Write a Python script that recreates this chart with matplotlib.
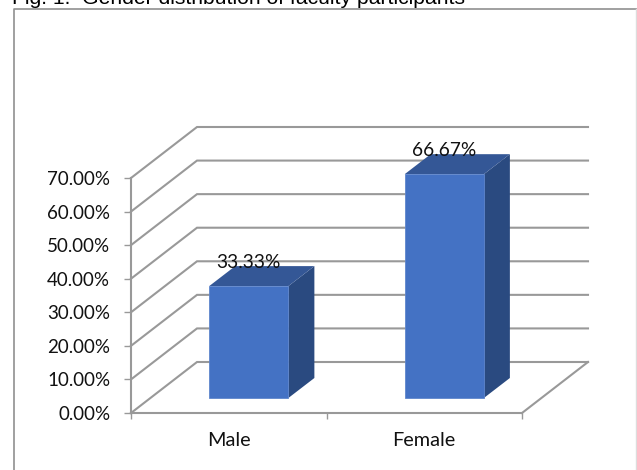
import matplotlib
matplotlib.use("Agg")
import matplotlib.pyplot as plt
from matplotlib.patches import Polygon, Rectangle

categories = ["Male", "Female"]
values = [33.33, 66.67]
y_ticks = [0, 10, 20, 30, 40, 50, 60, 70]

W, H = 637, 470
dpi = 100
plt.rcParams["font.family"] = ["Lato", "DejaVu Sans"]

fig = plt.figure(figsize=(W / dpi, H / dpi), dpi=dpi)
# axes sits on the front face of the 3d box, the depth is an offset in data units
ax = fig.add_axes([131 / W, 1 - 413 / H, 391 / W, 235 / H])
ax.set_xlim(0, len(categories))
ax.set_ylim(0, 70)
ax.patch.set_alpha(0)

grid = "#999999"
depth_x = 66 / 391 * 2
depth_y = 51 / 235 * 70
bar_w = 0.405
bar_dx = 26 / 391 * 2
bar_dy = 20 / 235 * 70
bar_z = 15 / 235 * 70

for t in y_ticks:
    ax.plot([0, depth_x, 2 + depth_x], [t, t + depth_y, t + depth_y],
            color=grid, lw=1.5, clip_on=False, zorder=1, solid_joinstyle="miter")
ax.plot([2, 2 + depth_x], [0, depth_y], color=grid, lw=1.5, clip_on=False, zorder=1)

for i, v in enumerate(values):
    x0 = i + 0.4
    x1 = x0 + bar_w
    b = bar_z
    t = v + bar_z
    ax.add_patch(Polygon([(x1, b), (x1 + bar_dx, b + bar_dy), (x1 + bar_dx, t + bar_dy), (x1, t)],
                         fc="#2a4a80", ec="none", clip_on=False, zorder=2))
    ax.add_patch(Polygon([(x0, t), (x1, t), (x1 + bar_dx, t + bar_dy), (x0 + bar_dx, t + bar_dy)],
                         fc="#345796", ec="none", clip_on=False, zorder=2))
    ax.add_patch(Rectangle((x0, b), bar_w, v, fc="#4472c4", ec="#5f86cc", lw=0.6,
                           clip_on=False, zorder=3))
    ax.annotate(f"{v:.2f}%", (x0 + bar_w / 2, t), xytext=(0, 11), textcoords="offset points",
                ha="center", va="bottom", fontsize=13.8, color="#111111", zorder=4,
                annotation_clip=False)

for side in ["top", "right"]:
    ax.spines[side].set_visible(False)
for side in ["left", "bottom"]:
    ax.spines[side].set_color(grid)
    ax.spines[side].set_linewidth(1.5)

ax.set_yticks(y_ticks, [f"{t:.2f}%" for t in y_ticks], fontsize=13.5, color="#111111")
ax.set_xticks([0, 1, 2], ["", "", ""])
ax.set_xticks([0.5, 1.5], categories, minor=True, fontsize=14.3, color="#111111")
ax.tick_params(axis="y", color=grid, width=1, length=5, pad=10)
ax.tick_params(axis="x", which="major", color=grid, width=1, length=4)
ax.tick_params(axis="x", which="minor", length=0, pad=14)

# frame round the chart, it runs off the bottom of the crop
fig.add_artist(plt.Line2D([13.5 / W, 13.5 / W, 637 / W],
                          [0, 1 - 8.5 / H, 1 - 8.5 / H], color="#909090", lw=1.2))
fig.add_artist(plt.Line2D([636 / W, 636 / W], [0, 1 - 8.5 / H], color="#dddddd", lw=1))

# caption is cut by the top of the crop in the reference too
fig.text(12 / W, 1 - 3.5 / H, "Fig. 1.  Gender distribution of faculty participants",
         family="Liberation Sans", fontsize=15.2, color="black", va="baseline")

fig.savefig("out.png", dpi=dpi)
